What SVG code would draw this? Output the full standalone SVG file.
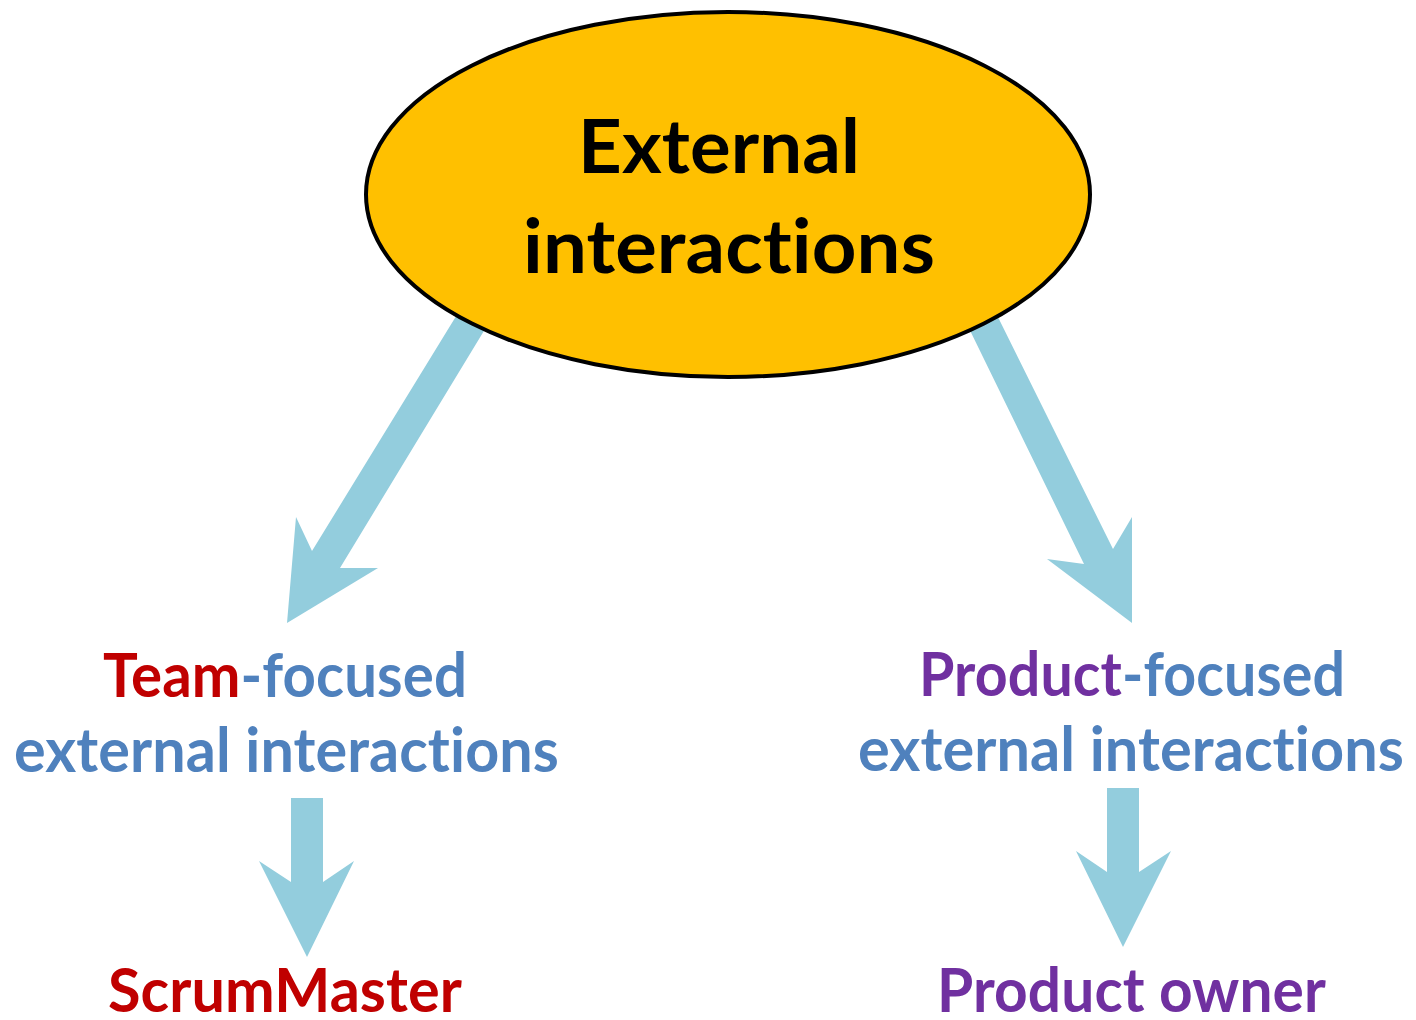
<svg xmlns="http://www.w3.org/2000/svg" width="1416" height="1020" viewBox="0 0 1416 1020">
  <style>
    .arrow { fill: #93CDDD; }
    .t { font-family: Lato, "Open Sans", "Liberation Sans", sans-serif; font-weight: bold; text-anchor: middle; font-variant-ligatures: none; font-feature-settings: "liga" 0, "clig" 0, "dlig" 0; letter-spacing: 0.1px; }
    .main { font-size: 74px; fill: #000000; }
    .lbl { font-size: 61px; }
    .blue { fill: #4F81BD; }
    .red { fill: #C00000; }
    .purple { fill: #7030A0; }
  </style>
  <rect width="1416" height="1020" fill="#FFFFFF"/>
  <g id="connectors">
    <polygon class="arrow" points="466,300 493,316 340,568 378,568 287,623 296,517 312,551"/>
    <polygon class="arrow" points="961,312 989,299 1113,549 1132,517 1132,623 1047,559 1084,564"/>
    <polygon class="arrow" points="291,798 323,798 323,882 354,861 307,957 259,861 291,882"/>
    <polygon class="arrow" points="1107,788 1139,788 1139,872 1171,851 1123,947 1076,851 1107,872"/>
  </g>
  <g id="external-interactions">
    <ellipse cx="728" cy="194.5" rx="362" ry="182.5" fill="#FFC000" stroke="#000000" stroke-width="4"/>
    <text class="t main" x="719" y="173" textLength="282" lengthAdjust="spacingAndGlyphs">External</text>
    <text class="t main" x="729" y="273" textLength="412" lengthAdjust="spacingAndGlyphs">interactions</text>
  </g>
  <g id="team-focused">
    <text class="t lbl" x="285" y="697" textLength="364" lengthAdjust="spacingAndGlyphs"><tspan class="red">Team</tspan><tspan class="blue">-focused</tspan></text>
    <text class="t lbl blue" x="286.5" y="772" textLength="545" lengthAdjust="spacingAndGlyphs">external interactions</text>
  </g>
  <g id="product-focused">
    <text class="t lbl" x="1132" y="696" textLength="426" lengthAdjust="spacingAndGlyphs"><tspan class="purple">Product</tspan><tspan class="blue">-focused</tspan></text>
    <text class="t lbl blue" x="1131" y="771" textLength="546" lengthAdjust="spacingAndGlyphs">external interactions</text>
  </g>
  <g id="scrummaster">
    <text class="t lbl red" x="285" y="1012" textLength="354" lengthAdjust="spacingAndGlyphs">ScrumMaster</text>
  </g>
  <g id="product-owner">
    <text class="t lbl purple" x="1131.5" y="1012" textLength="389" lengthAdjust="spacingAndGlyphs">Product owner</text>
  </g>
</svg>
